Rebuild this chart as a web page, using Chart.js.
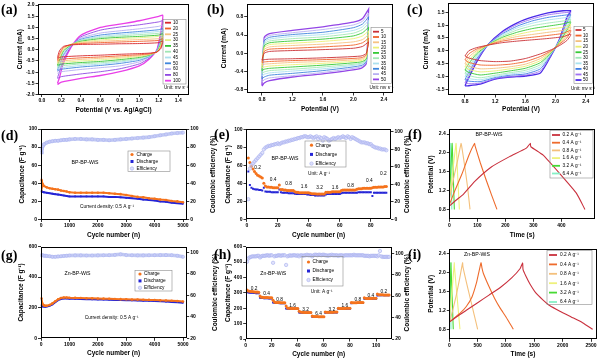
<!DOCTYPE html>
<html>
<head>
<meta charset="utf-8">
<script src="https://cdn.jsdelivr.net/npm/chart.js@4.4.1/dist/chart.umd.min.js"></script>
<style>
  html, body { margin: 0; padding: 0; background: #fff; }
  #fig { position: relative; width: 600px; height: 361px; overflow: hidden; }
  #fig canvas { position: absolute; }
  .tag { position: absolute; font: bold 14px "Liberation Serif", "Times New Roman", serif; line-height: 1; color: #000; }
</style>
</head>
<body>
<div id="fig">
  <canvas id="chartA"></canvas>
  <canvas id="chartB"></canvas>
  <canvas id="chartC"></canvas>
  <canvas id="chartD"></canvas>
  <canvas id="chartE"></canvas>
  <canvas id="chartF"></canvas>
  <canvas id="chartG"></canvas>
  <canvas id="chartH"></canvas>
  <canvas id="chartI"></canvas>
  <div class="tag" style="left:1px;top:3px">(a)</div>
  <div class="tag" style="left:207px;top:3px">(b)</div>
  <div class="tag" style="left:407px;top:3px">(c)</div>
  <div class="tag" style="left:1px;top:129px">(d)</div>
  <div class="tag" style="left:214px;top:128px">(e)</div>
  <div class="tag" style="left:408px;top:128px">(f)</div>
  <div class="tag" style="left:1px;top:249px">(g)</div>
  <div class="tag" style="left:214px;top:248px">(h)</div>
  <div class="tag" style="left:408px;top:248px">(i)</div>
</div>
<script>
'use strict';

// ---------- (a) CV, three-electrode (V vs. Ag/AgCl), mV s-1 ----------
const aRates = ['10', '20', '25', '30', '35', '40', '45', '50', '60', '80', '100'];
const aAnodicV = [0.16, 0.18, 0.22, 0.3, 0.4, 0.6, 0.8, 1.0, 1.2, 1.24];
const aAnodicI = [
  [-0.35, -0.05, 0.15, 0.22, 0.24, 0.25, 0.27, 0.28, 0.32, 0.4],
  [-0.45, -0.2, 0.1, 0.24, 0.28, 0.32, 0.35, 0.38, 0.42, 0.5],
  [-0.55, -0.3, 0.05, 0.24, 0.32, 0.38, 0.42, 0.46, 0.5, 0.58],
  [-0.6, -0.38, 0.0, 0.24, 0.35, 0.44, 0.5, 0.54, 0.6, 0.66],
  [-0.68, -0.45, -0.05, 0.22, 0.38, 0.5, 0.56, 0.6, 0.66, 0.72],
  [-0.75, -0.52, -0.1, 0.22, 0.42, 0.55, 0.62, 0.68, 0.74, 0.8],
  [-0.82, -0.6, -0.16, 0.2, 0.44, 0.6, 0.68, 0.75, 0.82, 0.88],
  [-0.9, -0.68, -0.22, 0.2, 0.47, 0.66, 0.75, 0.82, 0.9, 0.95],
  [-1.0, -0.8, -0.3, 0.18, 0.52, 0.75, 0.85, 0.94, 1.05, 1.1],
  [-1.25, -1.0, -0.45, 0.15, 0.58, 0.88, 1.02, 1.12, 1.25, 1.3],
  [-1.5, -1.25, -0.6, 0.12, 0.65, 1.0, 1.15, 1.3, 1.5, 1.55]
];
const aCathodicV = [1.24, 1.22, 1.18, 1.1, 1.0, 0.8, 0.6, 0.4, 0.2, 0.16];
const aCathodicI = [
  [0.3, 0.05, -0.1, -0.15, -0.17, -0.2, -0.24, -0.27, -0.32, -0.38],
  [0.4, 0.1, -0.1, -0.18, -0.22, -0.27, -0.32, -0.36, -0.42, -0.48],
  [0.48, 0.15, -0.1, -0.2, -0.26, -0.33, -0.38, -0.43, -0.5, -0.56],
  [0.55, 0.2, -0.09, -0.22, -0.3, -0.38, -0.45, -0.5, -0.57, -0.62],
  [0.62, 0.25, -0.08, -0.24, -0.34, -0.44, -0.52, -0.57, -0.64, -0.7],
  [0.7, 0.3, -0.07, -0.26, -0.38, -0.5, -0.58, -0.63, -0.72, -0.78],
  [0.78, 0.35, -0.06, -0.28, -0.42, -0.55, -0.64, -0.7, -0.8, -0.85],
  [0.85, 0.4, -0.05, -0.3, -0.47, -0.61, -0.7, -0.77, -0.87, -0.93],
  [0.98, 0.5, -0.04, -0.33, -0.54, -0.72, -0.8, -0.88, -0.98, -1.05],
  [1.15, 0.65, -0.02, -0.38, -0.63, -0.85, -0.98, -1.08, -1.2, -1.28],
  [1.4, 0.8, 0.0, -0.42, -0.72, -0.98, -1.15, -1.28, -1.45, -1.55]
];
const aPotentialTicks = [0, 0.2, 0.4, 0.6, 0.8, 1.0, 1.2, 1.4];
const aCurrentTicks = [-2, -1.5, -1, -0.5, 0, 0.5, 1, 1.5, 2];

// ---------- (b) CV, BP-BP-WiS device ----------
const bRates = ['5', '10', '15', '20', '25', '30', '35', '40', '45', '50'];
const bAnodicV = [0.8, 0.83, 0.9, 1.2, 1.6, 2.0, 2.12, 2.2];
const bAnodicI = [
  [-0.15, 0.0, 0.04, 0.06, 0.08, 0.11, 0.15, 0.25],
  [-0.2, 0.04, 0.09, 0.11, 0.14, 0.18, 0.23, 0.33],
  [-0.26, 0.08, 0.14, 0.17, 0.2, 0.25, 0.3, 0.41],
  [-0.32, 0.12, 0.19, 0.22, 0.26, 0.32, 0.38, 0.49],
  [-0.38, 0.16, 0.23, 0.27, 0.31, 0.38, 0.45, 0.57],
  [-0.44, 0.2, 0.27, 0.32, 0.36, 0.44, 0.52, 0.65],
  [-0.5, 0.24, 0.31, 0.37, 0.41, 0.5, 0.58, 0.72],
  [-0.56, 0.27, 0.35, 0.41, 0.46, 0.56, 0.64, 0.8],
  [-0.63, 0.31, 0.39, 0.45, 0.52, 0.62, 0.7, 0.88],
  [-0.7, 0.35, 0.43, 0.5, 0.58, 0.68, 0.76, 0.97]
];
const bCathodicV = [2.2, 2.17, 2.1, 1.6, 1.2, 0.9, 0.83, 0.8];
const bCathodicI = [
  [0.25, 0.0, -0.06, -0.1, -0.12, -0.13, -0.14, -0.15],
  [0.33, -0.03, -0.1, -0.14, -0.16, -0.18, -0.19, -0.2],
  [0.41, -0.06, -0.13, -0.18, -0.2, -0.23, -0.24, -0.26],
  [0.49, -0.09, -0.16, -0.22, -0.25, -0.28, -0.3, -0.32],
  [0.57, -0.12, -0.19, -0.26, -0.3, -0.33, -0.35, -0.38],
  [0.65, -0.14, -0.22, -0.3, -0.35, -0.38, -0.41, -0.44],
  [0.72, -0.16, -0.24, -0.34, -0.39, -0.43, -0.46, -0.5],
  [0.8, -0.18, -0.27, -0.38, -0.44, -0.48, -0.52, -0.56],
  [0.88, -0.2, -0.3, -0.42, -0.49, -0.54, -0.58, -0.63],
  [0.97, -0.22, -0.33, -0.45, -0.52, -0.6, -0.65, -0.72]
];
const bPotentialTicks = [0.8, 1.2, 1.6, 2.0, 2.4];
const bCurrentTicks = [-0.8, -0.4, 0, 0.4, 0.8];

// ---------- (c) CV, Zn-BP-WiS device ----------
const cRates = ['5', '10', '15', '20', '25', '30', '35', '40', '45', '50'];
const cAnodicV = [0.8, 0.85, 0.95, 1.1, 1.3, 1.5, 1.7, 1.9, 2.1, 2.2];
const cAnodicI = [
  [-0.2, 0.0, 0.12, 0.22, 0.32, 0.38, 0.43, 0.48, 0.55, 0.65],
  [-0.35, -0.12, 0.06, 0.22, 0.38, 0.47, 0.53, 0.6, 0.68, 0.8],
  [-0.5, -0.25, 0.0, 0.22, 0.43, 0.56, 0.64, 0.72, 0.8, 0.93],
  [-0.62, -0.38, -0.06, 0.22, 0.48, 0.64, 0.76, 0.84, 0.92, 1.03],
  [-0.75, -0.5, -0.13, 0.22, 0.53, 0.73, 0.87, 0.96, 1.05, 1.13],
  [-0.88, -0.62, -0.2, 0.22, 0.58, 0.82, 0.98, 1.08, 1.16, 1.22],
  [-1.0, -0.73, -0.26, 0.22, 0.63, 0.9, 1.08, 1.2, 1.28, 1.32],
  [-1.12, -0.84, -0.33, 0.22, 0.67, 0.97, 1.17, 1.3, 1.38, 1.41],
  [-1.24, -0.95, -0.4, 0.22, 0.72, 1.04, 1.25, 1.4, 1.48, 1.5],
  [-1.36, -1.05, -0.46, 0.22, 0.76, 1.1, 1.32, 1.48, 1.56, 1.56]
];
const cCathodicV = [2.2, 2.15, 2.05, 1.95, 1.8, 1.6, 1.4, 1.2, 1.0, 0.85, 0.8];
const cCathodicI = [
  [0.6, 0.4, 0.2, 0.05, -0.12, -0.3, -0.4, -0.42, -0.38, -0.28, -0.2],
  [0.75, 0.5, 0.25, 0.02, -0.22, -0.42, -0.52, -0.56, -0.55, -0.45, -0.35],
  [0.88, 0.6, 0.28, 0.0, -0.3, -0.52, -0.62, -0.68, -0.7, -0.6, -0.5],
  [1.0, 0.7, 0.3, -0.02, -0.38, -0.6, -0.7, -0.78, -0.82, -0.72, -0.62],
  [1.1, 0.8, 0.33, -0.04, -0.46, -0.68, -0.78, -0.87, -0.94, -0.84, -0.75],
  [1.2, 0.9, 0.36, -0.06, -0.54, -0.76, -0.85, -0.95, -1.05, -0.96, -0.88],
  [1.3, 1.0, 0.38, -0.08, -0.62, -0.83, -0.9, -1.0, -1.13, -1.08, -1.0],
  [1.38, 1.1, 0.4, -0.1, -0.7, -0.9, -0.95, -1.04, -1.2, -1.18, -1.12],
  [1.46, 1.2, 0.42, -0.12, -0.78, -0.95, -1.0, -1.08, -1.26, -1.28, -1.24],
  [1.54, 1.3, 0.44, -0.14, -0.86, -0.98, -1.02, -1.1, -1.3, -1.36, -1.36]
];
const cPotentialTicks = [0.8, 1.2, 1.6, 2.0, 2.4];
const cCurrentTicks = [-1.5, -1, -0.5, 0, 0.5, 1, 1.5];

// ---------- (d) BP-BP-WiS cycling at 0.5 A g-1 ----------
const dCycle = [10, 30, 60, 100, 200, 300, 400, 500, 600, 700, 800, 900, 1000, 1200, 1400, 1600, 1800,
  2000, 2200, 2400, 2600, 2800, 3000, 3200, 3400, 3600, 3800, 4000, 4200, 4400, 4600, 4800, 5000];
const dCharge = [44, 41, 39, 37, 35.5, 34.5, 34, 33.5, 33, 32, 31.5, 31, 30, 29.5, 29.5, 29.5, 29.5,
  29.5, 29.5, 29, 28.5, 28, 27, 26, 25, 24.5, 23.5, 23, 22, 21.5, 20.5, 20, 19];
const dDischarge = [31, 31, 30.5, 30, 29.5, 29, 28.5, 28, 27.5, 27, 26.5, 26, 25.5, 25.5, 25.5, 25.5, 25.5,
  25.5, 25.5, 25, 25, 24.5, 24, 23.5, 23, 22, 21.5, 21, 20, 19.5, 18.5, 18, 17.5];
const dEfficiency = [74, 78, 81, 83, 85, 86, 86.5, 87, 87, 87.5, 88, 88, 88.5, 89, 89, 88.5, 88.5,
  88, 88, 87.5, 88, 88.5, 89, 89.5, 90, 90.5, 91, 92, 93, 94, 95, 95.5, 96];
const longCycleTicks = [0, 1000, 2000, 3000, 4000, 5000];
const dCapTicks = [0, 20, 40, 60, 80, 100];
const dEffTicks = [0, 20, 40, 60, 80, 100];

// ---------- (e) BP-BP-WiS rate test (10 cycles per rate) ----------
const eCycle = Array.from({length: 90}, (_, i) => i + 1);
const eCharge = [
  68, 63, 59, 56, 53, 51, 49, 48, 47, 46,
  40, 37, 36, 36, 35.5, 35.5, 35, 35, 35, 35,
  38, 33, 33, 32.5, 32.5, 32, 32, 32, 32, 32,
  30.5, 30, 30, 29.5, 29.5, 29.5, 29.5, 29.5, 29.5, 29.5,
  29, 28.5, 28.5, 28.5, 28, 28, 28, 28, 28, 28,
  30, 30, 30, 30, 30.5, 30.5, 30.5, 30.5, 30.5, 30.5,
  32, 32.5, 32.5, 32.5, 32.5, 32.5, 32.5, 32.5, 32.5, 32.5,
  33.5, 34, 34, 34, 34.5, 34.5, 34.5, 34.5, 34.5, 34.5,
  35, 35.5, 35.5, 35.5, 36, 36, 36, 36, 36.5, 36.5
];
const eDischarge = [
  53, 38, 35, 34, 33.5, 33, 33, 32.5, 32.5, 32,
  35, 31, 30.5, 30.5, 30.5, 30, 30, 30, 30, 30,
  33, 30, 29.5, 29.5, 29.5, 29.5, 29, 29, 29, 29,
  28.5, 28, 28, 28, 28, 28, 28, 28, 27.5, 27.5,
  27, 27, 27, 26.5, 26.5, 26.5, 26.5, 26.5, 26.5, 26.5,
  27.5, 28, 28, 28, 28, 28, 28, 28, 28, 28,
  29, 29.5, 29.5, 29.5, 29.5, 29.5, 29.5, 29.5, 29.5, 29.5,
  29.5, 30, 30, 30, 30, 30, 30, 30, 30, 30,
  26, 29.5, 29.5, 29.5, 29.5, 29.5, 29.5, 29.5, 29.5, 29.5
];
const eEfficiency = [
  23, 58, 62, 64, 66, 68, 70, 72, 74, 76,
  80, 82, 83, 84, 84, 85, 85, 86, 86, 87,
  86, 87, 88, 88, 89, 89, 90, 90, 91, 91,
  92, 92, 93, 93, 94, 94, 95, 95, 94, 94,
  95, 94, 93, 94, 95, 92, 94, 93, 90, 94,
  93, 92, 90, 91, 92, 93, 92, 93, 94, 93,
  94, 95, 94, 93, 95, 94, 92, 94, 93, 92,
  91, 90, 89, 88, 88, 88, 87, 87, 86, 86,
  84, 83, 82, 82, 81, 81, 80, 80, 80, 79
];
const eCycleTicks = [0, 20, 40, 60, 80];

// ---------- (f) BP-BP-WiS charge/discharge ----------
const gcdRates = ['0.2 A g⁻¹', '0.4 A g⁻¹', '0.8 A g⁻¹', '1.6 A g⁻¹', '3.2 A g⁻¹', '6.4 A g⁻¹'];
const fTime = [
  [0, 25, 50, 90, 150, 215, 275, 289, 291, 335, 394, 454, 484],
  [0, 20, 45, 70, 90, 92, 110, 130, 150, 170],
  [0, 15, 30, 42, 44, 55, 65, 74],
  [0, 12, 24, 25, 30, 36],
  [0, 5, 10, 11, 18],
  [0, 5, 5.5, 9]
];
const fPotential = [
  [0.87, 1.0, 1.12, 1.39, 1.7, 1.92, 2.1, 2.2, 2.13, 1.95, 1.56, 1.14, 0.8],
  [0.9, 1.2, 1.55, 1.95, 2.2, 2.15, 1.8, 1.45, 1.12, 0.8],
  [1.0, 1.45, 1.85, 2.2, 2.15, 1.72, 1.28, 0.8],
  [1.0, 1.6, 2.2, 2.15, 1.5, 0.8],
  [1.0, 1.6, 2.2, 2.1, 0.8],
  [1.05, 2.2, 2.1, 0.8]
];
const fTimeTicks = [0, 100, 200, 300, 400];
const gcdPotentialTicks = [0.8, 1.2, 1.6, 2.0, 2.4];

// ---------- (g) Zn-BP-WiS cycling at 0.5 A g-1 ----------
const gCycle = [10, 50, 100, 150, 200, 300, 400, 500, 600, 700, 800, 900, 1000, 1200, 1400, 1600, 1800,
  2000, 2200, 2400, 2600, 2800, 3000, 3200, 3400, 3600, 3800, 4000, 4200, 4400, 4600, 4800, 5000];
const gCharge = [262, 225, 215, 212, 213, 218, 228, 242, 255, 263, 266, 266, 265, 264, 263, 262, 261,
  260, 259, 258, 257, 256, 255, 254, 253, 252, 251, 250, 248, 247, 245, 243, 241];
const gDischarge = [215, 208, 207, 206, 208, 213, 222, 236, 249, 257, 260, 260, 259, 258, 257, 256, 255,
  254, 253, 252, 251, 250, 249, 248, 247, 246, 245, 244, 242, 240, 238, 236, 233];
const gEfficiency = [97.5, 97.5, 97, 97, 96.8, 96.5, 96, 96, 96.3, 96.5, 96.8, 97, 97.2, 97.3, 97.3, 97.2, 97.2,
  97.3, 97.4, 97.5, 97.8, 98.3, 97.6, 97.4, 97.3, 97.3, 97.4, 97.5, 97.6, 97.6, 97.5, 97, 96];
const gCapTicks = [0, 200, 400, 600];
const gEffTicks = [20, 40, 60, 80, 100];

// ---------- (h) Zn-BP-WiS rate test (10 cycles per rate) ----------
const hCycle = Array.from({length: 110}, (_, i) => i + 1);
const hCharge = [
  318, 312, 310, 309, 308, 307, 306, 305, 305, 304,
  280, 272, 271, 270, 270, 269, 269, 268, 268, 268,
  252, 240, 238, 238, 237, 237, 236, 236, 236, 235,
  215, 202, 200, 200, 199, 199, 199, 198, 198, 198,
  180, 175, 174, 174, 173, 173, 173, 172, 172, 172,
  150, 147, 146, 146, 146, 145, 145, 145, 145, 145,
  176, 174, 174, 174, 174, 174, 174, 175, 175, 175,
  200, 199, 199, 199, 199, 199, 200, 200, 200, 200,
  238, 236, 236, 236, 236, 237, 237, 237, 237, 237,
  268, 264, 264, 264, 264, 264, 265, 265, 265, 265,
  292, 288, 287, 287, 287, 286, 286, 286, 286, 286
];
const hDischarge = [
  305, 302, 301, 300, 300, 299, 299, 298, 298, 298,
  268, 266, 266, 265, 265, 265, 265, 264, 264, 264,
  238, 235, 234, 234, 234, 233, 233, 233, 233, 233,
  199, 197, 197, 196, 196, 196, 196, 196, 196, 196,
  173, 171, 171, 171, 170, 170, 170, 170, 170, 170,
  144, 143, 143, 143, 143, 143, 143, 143, 143, 143,
  171, 172, 172, 172, 172, 172, 172, 172, 172, 172,
  196, 197, 197, 197, 197, 197, 197, 197, 197, 197,
  233, 234, 234, 234, 234, 234, 234, 234, 234, 234,
  261, 262, 262, 262, 262, 262, 262, 262, 262, 262,
  283, 284, 284, 284, 284, 284, 284, 284, 284, 284
];
const hEfficiency = [
  92, 95, 96, 96.5, 97, 97, 97, 97, 97.5, 97.5,
  96, 97, 97.5, 97.5, 97.5, 98, 98, 97.5, 98, 98,
  91, 97, 97.5, 97.5, 98, 98, 97.5, 98, 98, 98,
  89, 97, 97.5, 98, 97.5, 98, 98, 98, 97.5, 98,
  97, 98, 98, 97.5, 98, 98, 98.5, 98, 98, 98,
  97, 98, 98.5, 98.5, 98, 98.5, 98.5, 98, 98.5, 98.5,
  98, 98, 97.5, 98, 98, 98.5, 98, 98, 98, 98,
  97.5, 98, 98, 98, 97.5, 98, 98, 98, 98, 98,
  98, 98, 98.5, 98, 98, 98, 98, 98, 98, 98,
  97.5, 97.5, 97.5, 97.5, 97, 97.5, 97.5, 97.5, 97.5, 97.5,
  97, 98, 102, 97, 96.5, 96.5, 96.5, 96.5, 96.5, 96.5
];
const hCycleTicks = [0, 20, 40, 60, 80, 100];
const hCapTicks = [0, 100, 200, 300, 400, 500, 600];
const hEffTicks = [20, 40, 60, 80, 100];

// ---------- (i) Zn-BP-WiS charge/discharge ----------
const iTime = [
  [0, 150, 300, 500, 700, 900, 1100, 1250, 1294, 1300, 1350, 1420, 1530, 1650, 1770, 1950, 2150, 2350, 2530],
  [0, 100, 200, 300, 400, 480, 530, 560, 575, 600, 700, 800, 900, 1000, 1130],
  [0, 60, 120, 180, 235, 240, 300, 380, 440, 500],
  [0, 45, 88, 90, 140, 188],
  [0, 15, 30, 32, 70],
  [0, 12, 13, 30]
];
const iPotential = [
  [0.95, 1.08, 1.2, 1.36, 1.52, 1.68, 1.88, 2.08, 2.2, 2.06, 1.92, 1.76, 1.56, 1.42, 1.3, 1.18, 1.06, 0.94, 0.8],
  [0.95, 1.05, 1.15, 1.28, 1.48, 1.78, 2.05, 2.2, 2.1, 1.98, 1.7, 1.45, 1.24, 1.06, 0.8],
  [0.92, 1.2, 1.5, 1.85, 2.2, 2.12, 1.8, 1.4, 1.1, 0.8],
  [1.0, 1.55, 2.2, 2.12, 1.45, 0.8],
  [1.0, 1.6, 2.2, 2.1, 0.8],
  [1.05, 2.2, 2.1, 0.8]
];
const iTimeTicks = [0, 500, 1000, 1500, 2000, 2500];

// ---------- styling ----------
const FONT = '"Liberation Sans", Arial, Helvetica, sans-serif';
const cvPaletteA = ['#d7262b', '#f0602a', '#f7c27e', '#e3ef86', '#34c434', '#9fe6b4', '#abdfee', '#3f86dc', '#b4aef2', '#9048e2', '#ea3fe8'];
const cvPaletteB = ['#c93036', '#f0632a', '#f7c382', '#edf076', '#36c936', '#a3e8b4', '#ace0ee', '#3f86dc', '#b8b0f2', '#9345e6'];
const cvPaletteC = ['#c93036', '#f0632a', '#f3bf7a', '#e9ee70', '#36c936', '#a0e8b8', '#a8e2ee', '#3f7ee6', '#a070f0', '#4b2ae8'];
const gcdPalette = ['#c9303d', '#ee6b2c', '#f4c07c', '#eef17c', '#47da34', '#86f0c6'];
const ORANGE = '#f5731c';
const BLUE = '#2424d6';
const LAVENDER = '#a6aeee';

function pts(xs, ys) {
  return ys.map((y, i) => ({x: xs[i], y: y}));
}

function cvSets(rates, upV, upI, downV, downI, palette) {
  return rates.map((r, k) => ({
    label: r,
    data: pts(upV, upI[k]).concat(pts(downV, downI[k])),
    showLine: true,
    borderColor: palette[k],
    borderWidth: k === rates.length - 1 ? 1.3 : 0.9,
    pointRadius: 0,
    tension: 0.2
  }));
}

function gcdSets(times, volts) {
  return gcdRates.map((r, k) => ({
    label: r,
    data: pts(times[k], volts[k]),
    showLine: true,
    borderColor: gcdPalette[k],
    borderWidth: 1.1,
    pointRadius: 0,
    tension: 0.15
  }));
}

function longCycleSets(cycle, charge, discharge, eff) {
  return [
    {label: 'Efficiency', data: pts(cycle, eff), yAxisID: 'y2', showLine: true, borderColor: 'rgba(166,178,238,0.7)',
      borderWidth: 3.6, pointRadius: 1.6, pointBackgroundColor: 'rgba(200,205,248,0.8)', pointBorderColor: LAVENDER, pointBorderWidth: 0.5},
    {label: 'Charge', data: pts(cycle, charge), yAxisID: 'y', showLine: true, borderColor: ORANGE, borderWidth: 2,
      pointRadius: 1.3, pointBackgroundColor: ORANGE, pointBorderWidth: 0},
    {label: 'Discharge', data: pts(cycle, discharge), yAxisID: 'y', showLine: true, borderColor: BLUE, borderWidth: 2,
      pointRadius: 1.2, pointStyle: 'rect', pointBackgroundColor: BLUE, pointBorderWidth: 0}
  ];
}

function rateSets(cycle, charge, discharge, eff) {
  return [
    {label: 'Efficiency', data: pts(cycle, eff), yAxisID: 'y2', pointRadius: 1.7,
      pointBackgroundColor: 'rgba(205,208,248,0.6)', pointBorderColor: LAVENDER, pointBorderWidth: 0.6},
    {label: 'Charge', data: pts(cycle, charge), yAxisID: 'y', pointRadius: 1.5,
      pointBackgroundColor: ORANGE, pointBorderWidth: 0},
    {label: 'Discharge', data: pts(cycle, discharge), yAxisID: 'y', pointRadius: 1.4, pointStyle: 'rect',
      pointBackgroundColor: BLUE, pointBorderWidth: 0}
  ];
}

const markerItems = [
  {label: 'Charge', kind: 'circle', color: ORANGE},
  {label: 'Discharge', kind: 'rect', color: BLUE},
  {label: 'Efficiency', kind: 'ring', color: LAVENDER}
];

function lineItems(labels, palette) {
  return labels.map((l, k) => ({label: l, kind: 'line', color: palette[k]}));
}

function drawMarker(ctx, it, x, y, lg) {
  ctx.fillStyle = it.color;
  ctx.strokeStyle = it.color;
  if (it.kind === 'line') {
    ctx.lineWidth = lg.lineWidth || 1.8;
    ctx.beginPath();
    ctx.moveTo(x, y);
    ctx.lineTo(x + lg.swatchW, y);
    ctx.stroke();
  } else if (it.kind === 'circle') {
    ctx.beginPath();
    ctx.arc(x, y, 1.6, 0, Math.PI * 2);
    ctx.fill();
  } else if (it.kind === 'rect') {
    ctx.fillRect(x - 1.5, y - 1.5, 3, 3);
  } else {
    ctx.beginPath();
    ctx.arc(x, y, 1.7, 0, Math.PI * 2);
    ctx.fillStyle = 'rgba(205,208,248,0.7)';
    ctx.fill();
    ctx.lineWidth = 0.6;
    ctx.stroke();
  }
}

// frame, inner legend, free texts and the right-hand axis title
const figureExtras = {
  id: 'figureExtras',
  afterDraw(chart, args, opts) {
    const ctx = chart.ctx;
    const a = chart.chartArea;
    const ox = opts.ox, oy = opts.oy;
    ctx.save();

    const L = Math.round(a.left) + 0.5, T = Math.round(a.top) + 0.5;
    const R = Math.round(a.right) - 0.5, B = Math.round(a.bottom) - 0.5;
    ctx.strokeStyle = '#000';
    ctx.lineWidth = 1;
    ctx.strokeRect(L, T, R - L, B - T);

    const lg = opts.legend;
    if (lg) {
      ctx.strokeStyle = '#8c8c8c';
      ctx.lineWidth = 0.6;
      ctx.strokeRect(lg.box[0] - ox, lg.box[1] - oy, lg.box[2], lg.box[3]);
      ctx.font = lg.size + 'px ' + FONT;
      ctx.textAlign = 'left';
      ctx.textBaseline = 'middle';
      lg.items.forEach((it, i) => {
        const cy = lg.firstY - oy + i * lg.step;
        drawMarker(ctx, it, lg.swatchX - ox, cy, lg);
        ctx.fillStyle = '#000';
        ctx.fillText(it.label, lg.textX - ox, cy);
      });
    }

    (opts.texts || []).forEach(t => {
      let x = t.x - ox, y = t.y - oy;
      if (t.data) {
        x = chart.scales.x.getPixelForValue(t.x);
        y = chart.scales.y.getPixelForValue(t.y);
      }
      ctx.font = (t.bold ? 'bold ' : '') + (t.size || 5) + 'px ' + FONT;
      ctx.fillStyle = '#000';
      ctx.textAlign = t.align || 'center';
      ctx.textBaseline = 'middle';
      ctx.fillText(t.text, x, y);
    });

    const rt = opts.rightTitle;
    if (rt) {
      ctx.translate(rt.x - ox, (a.top + a.bottom) / 2);
      ctx.rotate(-Math.PI / 2);
      ctx.font = 'bold 6.5px ' + FONT;
      ctx.fillStyle = '#000';
      ctx.textAlign = 'center';
      ctx.textBaseline = 'middle';
      ctx.fillText(rt.text, 0, 0);
    }
    ctx.restore();
  }
};
Chart.register(figureExtras);

function axis(pos, ax, size, titleDist) {
  const horizontal = pos === 'bottom';
  const title = {display: false};
  if (ax.title && titleDist != null) {
    title.display = true;
    title.text = ax.title;
    title.color = '#000';
    title.font = {family: FONT, size: 6.5, weight: 'bold', lineHeight: 1};
    title.padding = horizontal ? {top: 0, bottom: titleDist - 3.25} : {top: titleDist - 3.25, bottom: 0};
  }
  return {
    type: 'linear',
    position: pos,
    min: ax.min,
    max: ax.max,
    afterBuildTicks: s => { s.ticks = ax.ticks.map(v => ({value: v})); },
    afterFit: s => {
      if (horizontal) s.height = size; else s.width = size;
      s.paddingLeft = s.paddingRight = s.paddingTop = s.paddingBottom = 0;
    },
    border: {display: false},
    grid: {drawOnChartArea: false, drawTicks: true, tickLength: 2.5, color: '#000', lineWidth: 0.8},
    ticks: {
      padding: 1, color: '#000', autoSkip: false, maxRotation: 0,
      font: {family: FONT, size: 5, weight: 'bold'},
      callback: v => ax.fmt ? v.toFixed(ax.fmt) : String(v)
    },
    title: title
  };
}

function buildChart(p) {
  const canvas = document.getElementById(p.id);
  const box = p.box, plot = p.plot;
  canvas.width = box.w;
  canvas.height = box.h;
  canvas.style.left = box.x + 'px';
  canvas.style.top = box.y + 'px';
  canvas.style.width = box.w + 'px';
  canvas.style.height = box.h + 'px';

  const lm = plot.l - box.x;
  const tm = plot.t - box.y;
  const rm = box.x + box.w - plot.r;
  const bm = box.y + box.h - plot.b;

  const scales = {
    x: axis('bottom', p.x, bm, box.y + box.h - p.x.titleAt),
    y: axis('left', p.y, lm, p.y.titleAt - box.x)
  };
  if (p.y2) scales.y2 = axis('right', p.y2, rm, null);

  const extras = Object.assign({ox: box.x, oy: box.y}, p.extras || {});
  if (p.y2) extras.rightTitle = {text: p.y2.title, x: p.y2.titleAt};

  return new Chart(canvas, {
    type: 'scatter',
    data: {datasets: p.datasets},
    options: {
      responsive: false,
      animation: false,
      devicePixelRatio: 1,
      layout: {padding: {top: tm, left: 0, right: p.y2 ? 0 : rm, bottom: 0}, autoPadding: false},
      plugins: {legend: {display: false}, tooltip: {enabled: false}, figureExtras: extras},
      scales: scales
    }
  });
}

const panels = [
  {
    id: 'chartA', box: {x: 0, y: 0, w: 203, h: 120}, plot: {l: 38, t: 4, r: 189, b: 94.5},
    x: {min: -0.04, max: 1.51, ticks: aPotentialTicks, fmt: 1, title: 'Potential (V vs. Ag/AgCl)', titleAt: 110},
    y: {min: -2, max: 2.05, ticks: aCurrentTicks, fmt: 1, title: 'Current (mA)', titleAt: 20},
    datasets: cvSets(aRates, aAnodicV, aAnodicI, aCathodicV, aCathodicI, cvPaletteA),
    extras: {
      legend: {box: [163, 19.5, 23, 64.5], firstY: 22.7, step: 5.8, swatchX: 165, swatchW: 6, textX: 173, size: 4.6,
        items: lineItems(aRates, cvPaletteA)},
      texts: [{text: 'Unit: mv s⁻¹', x: 176, y: 88, size: 4.6}]
    }
  },
  {
    id: 'chartB', box: {x: 203, y: 0, w: 200, h: 120}, plot: {l: 246.7, t: 3.5, r: 393, b: 93},
    x: {min: 0.6, max: 2.52, ticks: bPotentialTicks, fmt: 1, title: 'Potential (V)', titleAt: 109.3},
    y: {min: -0.87, max: 1.09, ticks: bCurrentTicks, fmt: 1, title: 'Current (mA)', titleAt: 224.3},
    datasets: cvSets(bRates, bAnodicV, bAnodicI, bCathodicV, bCathodicI, cvPaletteB),
    extras: {
      legend: {box: [371, 27.5, 20.5, 56], firstY: 31.7, step: 5.3, swatchX: 373, swatchW: 6, textX: 381, size: 4.6,
        items: lineItems(bRates, cvPaletteB)},
      texts: [{text: 'Unit: mv s⁻¹', x: 381.5, y: 87.5, size: 4.6}]
    }
  },
  {
    id: 'chartC', box: {x: 403, y: 0, w: 197, h: 120}, plot: {l: 448, t: 3.3, r: 594, b: 95},
    x: {min: 0.575, max: 2.51, ticks: cPotentialTicks, fmt: 1, title: 'Potential (V)', titleAt: 109.3},
    y: {min: -1.72, max: 1.85, ticks: cCurrentTicks, fmt: 1, title: 'Current (mA)', titleAt: 426.7},
    datasets: cvSets(cRates, cAnodicV, cAnodicI, cCathodicV, cCathodicI, cvPaletteC),
    extras: {
      legend: {box: [574, 26.5, 18.5, 57], firstY: 30, step: 5.56, swatchX: 575.5, swatchW: 6, textX: 583, size: 4.6,
        items: lineItems(cRates, cvPaletteC)},
      texts: [{text: 'Unit: mv s⁻¹', x: 583, y: 88.3, size: 4.6}]
    }
  },
  {
    id: 'chartD', box: {x: 0, y: 120, w: 222, h: 120}, plot: {l: 40.5, t: 129, r: 186.7, b: 219.5},
    x: {min: -20, max: 5130, ticks: longCycleTicks, title: 'Cycle number (n)', titleAt: 235},
    y: {min: 0, max: 100, ticks: dCapTicks, title: 'Capacitance (F g⁻¹)', titleAt: 22.7},
    y2: {min: 0, max: 100, ticks: dEffTicks, title: 'Coulombic efficiency (%)', titleAt: 213.3},
    datasets: longCycleSets(dCycle, dCharge, dDischarge, dEfficiency),
    extras: {
      legend: {box: [128, 151, 42, 20.5], firstY: 154.5, step: 7, swatchX: 132, textX: 136.5, size: 4.8, items: markerItems},
      texts: [
        {text: 'BP-BP-WiS', x: 85, y: 162.7, size: 5.2},
        {text: 'Current density: 0.5 A g⁻¹', x: 107, y: 207, size: 4.8}
      ]
    }
  },
  {
    id: 'chartE', box: {x: 222, y: 120, w: 193, h: 120}, plot: {l: 246, t: 129.3, r: 391, b: 219.3},
    x: {min: -0.5, max: 93, ticks: eCycleTicks, title: 'Cycle number (n)', titleAt: 235},
    y: {min: 0, max: 100, ticks: dCapTicks, title: 'Capacitance (F g⁻¹)', titleAt: 228.3},
    y2: {min: 0, max: 103, ticks: dEffTicks, title: 'Coulombic efficiency (%)', titleAt: 407},
    datasets: rateSets(eCycle, eCharge, eDischarge, eEfficiency),
    extras: {
      legend: {box: [305, 141, 41, 26], firstY: 145.2, step: 9.2, swatchX: 311.5, textX: 315.5, size: 4.8, items: markerItems},
      texts: [
        {text: 'BP-BP-WiS', x: 285, y: 158.3, size: 5.2},
        {text: 'Unit: A g⁻¹', x: 319, y: 173.3, size: 4.8},
        {text: '0.2', x: 7, y: 57, data: true, size: 4.8},
        {text: '0.4', x: 17, y: 43.5, data: true, size: 4.8},
        {text: '0.8', x: 27, y: 40, data: true, size: 4.8},
        {text: '1.6', x: 37, y: 36.5, data: true, size: 4.8},
        {text: '3.2', x: 47, y: 35.5, data: true, size: 4.8},
        {text: '1.6', x: 57, y: 35.5, data: true, size: 4.8},
        {text: '0.8', x: 67, y: 37.5, data: true, size: 4.8},
        {text: '0.4', x: 79, y: 42.5, data: true, size: 4.8},
        {text: '0.2', x: 88, y: 51, data: true, size: 4.8}
      ]
    }
  },
  {
    id: 'chartF', box: {x: 415, y: 120, w: 185, h: 120}, plot: {l: 449.3, t: 129.3, r: 595, b: 219.3},
    x: {min: 0, max: 520, ticks: fTimeTicks, title: 'Time (s)', titleAt: 235},
    y: {min: 0.59, max: 2.5, ticks: gcdPotentialTicks, fmt: 1, title: 'Potential (V)', titleAt: 431.7},
    datasets: gcdSets(fTime, fPotential),
    extras: {
      legend: {box: [550, 130.5, 43, 47.5], firstY: 135, step: 7.7, swatchX: 552, swatchW: 8, textX: 562.5, size: 4.8,
        items: lineItems(gcdRates, gcdPalette)},
      texts: [{text: 'BP-BP-WiS', x: 489, y: 135, size: 5.2}]
    }
  },
  {
    id: 'chartG', box: {x: 0, y: 240, w: 222, h: 121}, plot: {l: 40.5, t: 246.5, r: 186.7, b: 338.3},
    x: {min: -20, max: 5130, ticks: longCycleTicks, title: 'Cycle number (n)', titleAt: 353.3},
    y: {min: 0, max: 600, ticks: gCapTicks, title: 'Capacitance (F g⁻¹)', titleAt: 21.7},
    y2: {min: 20, max: 105.6, ticks: gEffTicks, title: 'Coulombic efficiency (%)', titleAt: 215},
    datasets: longCycleSets(gCycle, gCharge, gDischarge, gEfficiency),
    extras: {
      legend: {box: [135, 270.5, 37, 20.5], firstY: 274, step: 6.9, swatchX: 140, textX: 144, size: 4.8, items: markerItems},
      texts: [
        {text: 'Zn-BP-WiS', x: 77.5, y: 274, size: 5.2},
        {text: 'Current density: 0.5 A g⁻¹', x: 111.7, y: 317.3, size: 4.8}
      ]
    }
  },
  {
    id: 'chartH', box: {x: 222, y: 240, w: 193, h: 121}, plot: {l: 245.7, t: 246.7, r: 391.7, b: 339},
    x: {min: 0, max: 112, ticks: hCycleTicks, title: 'Cycle number (n)', titleAt: 354.3},
    y: {min: 0, max: 600, ticks: hCapTicks, title: 'Capacitance (F g⁻¹)', titleAt: 228.3},
    y2: {min: 20, max: 106, ticks: hEffTicks, title: 'Coulombic efficiency (%)', titleAt: 407},
    datasets: rateSets(hCycle, hCharge, hDischarge, hEfficiency),
    extras: {
      legend: {box: [302, 256.5, 41, 29.5], firstY: 262, step: 9, swatchX: 308.5, textX: 312.5, size: 4.8, items: markerItems},
      texts: [
        {text: 'Zn-BP-WiS', x: 273.3, y: 273.3, size: 5.2},
        {text: 'Unit: A g⁻¹', x: 321.7, y: 291.7, size: 4.8},
        {text: '0.2', x: 6.5, y: 330, data: true, size: 4.8},
        {text: '0.4', x: 16, y: 292, data: true, size: 4.8},
        {text: '0.8', x: 26, y: 257, data: true, size: 4.8},
        {text: '1.6', x: 36, y: 219, data: true, size: 4.8},
        {text: '3.2', x: 46, y: 192, data: true, size: 4.8},
        {text: '6.4', x: 56, y: 163, data: true, size: 4.8},
        {text: '3.2', x: 66, y: 192, data: true, size: 4.8},
        {text: '1.6', x: 76, y: 218, data: true, size: 4.8},
        {text: '0.8', x: 86, y: 256, data: true, size: 4.8},
        {text: '0.4', x: 96, y: 283, data: true, size: 4.8},
        {text: '0.2', x: 106, y: 306, data: true, size: 4.8}
      ]
    }
  },
  {
    id: 'chartI', box: {x: 415, y: 240, w: 185, h: 121}, plot: {l: 449.3, t: 248.5, r: 596.7, b: 339.3},
    x: {min: 0, max: 2600, ticks: iTimeTicks, title: 'Time (s)', titleAt: 354.3},
    y: {min: 0.59, max: 2.5, ticks: gcdPotentialTicks, fmt: 1, title: 'Potential (V)', titleAt: 431.7},
    datasets: gcdSets(iTime, iPotential),
    extras: {
      legend: {box: [547, 250.5, 45, 54], firstY: 255, step: 9.4, swatchX: 549, swatchW: 8, textX: 560, size: 4.8,
        items: lineItems(gcdRates, gcdPalette)},
      texts: [{text: 'Zn-BP-WiS', x: 477, y: 255, size: 5.2}]
    }
  }
];

panels.forEach(buildChart);
</script>
</body>
</html>
